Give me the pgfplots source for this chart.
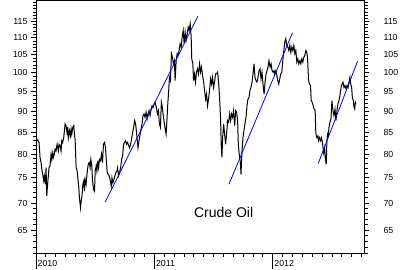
\documentclass[border=0pt]{standalone}
\usepackage{pgfplots}
\pgfplotsset{compat=1.18}
\usepackage{fontspec}
\setmainfont{Liberation Sans}
\begin{document}
\begin{tikzpicture}
\begin{axis}[
  scale only axis, width=328pt, height=253pt,
  at={(0pt,0pt)}, anchor=south west,
  xmin=0, xmax=33.25, ymode=log, ymin=61, ymax=121.8,
  ytick={65,70,75,80,85,90,95,100,105,110,115},
  yticklabels={65,70,75,80,85,90,95,100,105,110,115},
  tick align=outside,
  major tick length=5pt, minor tick length=3.5pt,
  ticklabel style={font=\fontsize{8.8}{10}\selectfont},
  clip=false,
  axis line style={line width=0.8pt},
  tick style={black, line width=0.8pt},
  minor ytick={61,...,121},
  minor xtick={1,...,33},
  xtick={0,12,24}, xticklabels={2010,2011,2012},
  xticklabel style={anchor=north west, inner sep=0pt, xshift=1.5pt, yshift=-1.5pt},
  xtick pos=left, ytick pos=both,
]
\addplot[black, line width=1pt] coordinates {
(0.00,83.0) (0.17,83.2) (0.31,82.6) (0.41,79.3) (0.51,78.2) (0.64,76.1) (0.78,74.4) (0.85,75.4) (0.95,73.7) (1.02,77.1)
(1.09,71.4) (1.19,74.0) (1.32,77.1) (1.42,77.5) (1.53,80.0) (1.60,78.9) (1.70,80.3) (1.76,79.3) (1.86,80.0) (1.93,81.1)
(2.03,80.7) (2.14,82.2) (2.27,80.7) (2.34,82.2) (2.44,81.9) (2.54,80.7) (2.61,83.0) (2.71,82.6) (2.81,83.7) (2.95,86.9)
(3.05,86.5) (3.15,84.8) (3.22,86.1) (3.29,83.7) (3.39,85.3) (3.49,84.1) (3.56,85.7) (3.63,84.5) (3.73,86.1) (3.83,86.5)
(3.90,84.5) (3.97,83.0) (4.07,77.1) (4.17,76.4) (4.24,75.0) (4.34,73.0) (4.40,71.1) (4.51,69.1) (4.58,70.4) (4.68,71.7)
(4.75,73.7) (4.85,74.4) (4.91,72.3) (4.98,74.7) (5.08,73.7) (5.19,76.1) (5.29,77.8) (5.39,78.2) (5.49,77.1) (5.56,78.9)
(5.66,77.5) (5.73,74.4) (5.83,72.7) (5.93,72.3) (6.00,76.4) (6.10,77.5) (6.17,76.4) (6.27,78.6) (6.34,77.1) (6.44,78.9)
(6.54,78.6) (6.64,80.0) (6.74,78.2) (6.84,82.2) (6.95,82.6) (7.05,81.4) (7.12,78.9) (7.22,76.1) (7.32,75.7) (7.42,75.4)
(7.53,74.4) (7.63,73.3) (7.70,75.0) (7.80,74.0) (7.90,74.7) (8.00,75.4) (8.10,76.1) (8.20,76.4) (8.27,77.1) (8.37,75.4)
(8.47,76.1) (8.58,77.1) (8.68,78.9) (8.78,79.6) (8.88,82.2) (8.98,82.6) (9.08,83.0) (9.18,82.2) (9.29,82.6) (9.39,81.9)
(9.49,81.4) (9.59,82.2) (9.69,83.4) (9.79,84.8) (9.90,86.1) (10.00,87.7) (10.10,86.9) (10.17,85.3) (10.24,83.7) (10.34,81.4)
(10.44,83.0) (10.55,84.5) (10.65,85.7) (10.75,86.9) (10.85,88.9) (10.95,89.3) (11.05,88.5) (11.16,89.7) (11.26,88.1) (11.36,89.3)
(11.46,90.1) (11.56,88.9) (11.66,90.5) (11.77,91.3) (11.87,90.9) (11.97,91.8) (12.07,92.2) (12.20,90.9) (12.31,89.3) (12.41,90.1)
(12.51,86.9) (12.61,86.1) (12.71,92.2) (12.81,90.9) (12.92,88.5) (13.02,86.9) (13.12,85.3) (13.19,84.5) (13.29,88.5) (13.36,91.8)
(13.45,95.2) (13.53,98.7) (13.63,97.8) (13.73,105.3) (13.83,104.3) (13.93,102.4) (14.03,103.3) (14.10,97.8) (14.21,103.3) (14.31,105.3)
(14.41,104.8) (14.51,106.2) (14.61,108.2) (14.72,107.2) (14.82,110.2) (14.92,112.2) (15.02,108.2) (15.12,111.7) (15.22,109.2) (15.33,111.2)
(15.43,113.2) (15.53,112.2) (15.63,114.3) (15.73,110.2) (15.79,103.8) (15.90,102.4) (15.97,97.8) (16.07,99.6) (16.17,97.4) (16.27,100.1)
(16.37,101.0) (16.47,99.6) (16.58,102.4) (16.68,100.1) (16.78,101.5) (16.88,99.2) (16.98,97.8) (17.09,95.2) (17.19,93.0) (17.29,94.3)
(17.39,91.3) (17.49,93.0) (17.59,95.2) (17.70,98.3) (17.80,96.9) (17.90,98.7) (18.00,96.0) (18.10,97.4) (18.20,99.6) (18.31,99.6)
(18.41,100.1) (18.51,97.4) (18.61,93.4) (18.71,88.1) (18.78,81.9) (18.85,79.3) (18.92,83.7) (19.02,86.9) (19.12,84.5) (19.22,82.2)
(19.32,84.5) (19.42,87.7) (19.53,87.3) (19.63,89.3) (19.73,87.7) (19.83,89.3) (19.93,88.5) (20.03,90.1) (20.14,86.5) (20.24,90.1)
(20.34,89.7) (20.44,87.7) (20.51,82.2) (20.57,80.7) (20.64,79.3) (20.72,78.2) (20.78,75.7) (20.88,80.7) (20.98,83.7) (21.08,85.3)
(21.18,86.9) (21.29,88.5) (21.39,91.3) (21.49,93.0) (21.59,93.4) (21.69,95.2) (21.79,96.0) (21.90,97.4) (22.00,99.6) (22.10,102.4)
(22.20,98.7) (22.30,97.8) (22.40,97.4) (22.51,98.7) (22.61,100.5) (22.71,101.0) (22.81,98.3) (22.91,100.1) (23.01,96.9) (23.12,94.3)
(23.22,97.4) (23.32,99.6) (23.42,100.5) (23.52,101.5) (23.62,103.3) (23.73,101.5) (23.83,102.4) (23.93,100.5) (24.03,100.1) (24.13,100.5)
(24.20,99.6) (24.31,100.5) (24.41,99.2) (24.51,97.8) (24.61,96.9) (24.71,98.3) (24.81,99.6) (24.92,100.1) (25.02,103.3) (25.12,106.2)
(25.22,108.7) (25.32,109.7) (25.42,107.7) (25.53,107.2) (25.63,106.2) (25.73,107.7) (25.83,105.7) (25.93,107.2) (26.03,106.2) (26.14,107.7)
(26.24,105.3) (26.34,106.2) (26.44,102.9) (26.54,103.8) (26.64,102.4) (26.75,103.3) (26.85,102.4) (26.95,103.8) (27.05,102.9) (27.15,104.3)
(27.25,104.8) (27.36,106.2) (27.46,105.7) (27.53,103.8) (27.63,97.8) (27.73,96.9) (27.83,96.5) (27.90,92.6) (28.00,92.2) (28.10,91.3)
(28.20,90.5) (28.30,90.1) (28.37,84.5) (28.48,83.7) (28.58,84.1) (28.65,83.0) (28.75,83.7) (28.85,83.0) (28.95,83.7) (29.06,82.2)
(29.16,80.3) (29.26,81.4) (29.32,79.3) (29.42,77.8) (29.49,83.0) (29.56,84.5) (29.63,84.1) (29.70,86.1) (29.80,87.3) (29.90,88.1)
(30.00,92.6) (30.10,90.1) (30.20,88.9) (30.31,90.5) (30.41,87.7) (30.51,90.1) (30.61,91.8) (30.71,92.6) (30.81,93.9) (30.92,96.0)
(31.02,96.9) (31.12,97.4) (31.22,96.0) (31.32,96.5) (31.43,95.6) (31.53,96.5) (31.63,96.0) (31.73,97.4) (31.83,98.7) (31.90,96.9)
(32.00,96.0) (32.07,93.4) (32.17,92.6) (32.24,90.9) (32.31,90.5) (32.37,92.2) (32.44,91.8)
};
\addplot[blue, line width=0.8pt] coordinates {(7.02,70.2) (16.40,116.6)};
\addplot[blue, line width=0.8pt] coordinates {(19.56,73.7) (26.00,111.5)};
\addplot[blue, line width=0.8pt] coordinates {(28.61,78.0) (32.59,103.1)};
\node[font=\fontsize{14}{16}\selectfont] at (axis cs:19.02,68.3) {Crude Oil};
\draw[line width=0.8pt] (axis cs:0,61) -- ++(0pt,-16pt);
\draw[line width=0.8pt] (axis cs:12,61) -- ++(0pt,-16pt);
\draw[line width=0.8pt] (axis cs:24,61) -- ++(0pt,-16pt);
\end{axis}
\begin{axis}[
  scale only axis, width=328pt, height=253pt,
  at={(0pt,0pt)}, anchor=south west,
  xmin=0, xmax=33.25, ymode=log, ymin=61, ymax=121.8,
  ytick={65,70,75,80,85,90,95,100,105,110,115},
  yticklabels={65,70,75,80,85,90,95,100,105,110,115},
  tick align=outside,
  major tick length=5pt,
  ticklabel style={font=\fontsize{8.8}{10}\selectfont},
  axis line style={draw=none},
  xtick=\empty,
  ytick style={draw=none},
  yticklabel pos=right, ytick pos=right,
  yticklabel style={xshift=11pt},
]
\end{axis}
\path[use as bounding box] (-36pt,-16pt) rectangle (366pt,253.4pt);
\end{tikzpicture}
\end{document}
